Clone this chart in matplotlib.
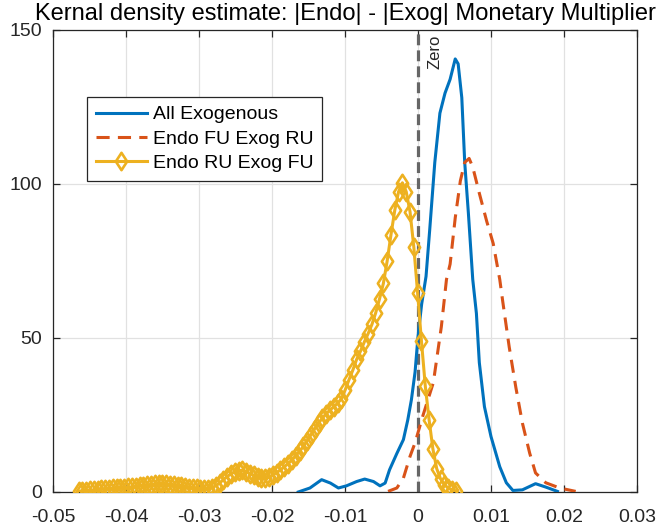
import numpy as np
import matplotlib
matplotlib.use("Agg")
import matplotlib.pyplot as plt
from matplotlib.path import Path

plt.rcParams['font.family'] = ['Liberation Sans', 'DejaVu Sans']
plt.rcParams['axes.unicode_minus'] = False

# ---------------- data ----------------
title = "Kernal density estimate: |Endo| - |Exog| Monetary Multiplier"
labels = ["All Exogenous", "Endo FU Exog RU", "Endo RU Exog FU"]

x_all = [-0.0164, -0.0148, -0.0132, -0.0120, -0.0109, -0.0098, -0.0084, -0.0073,
         -0.0061, -0.0052, -0.0045, -0.0039, -0.0029, -0.0020, -0.0014, -0.0009,
         -0.0004, 0.0000, 0.0005, 0.0011, 0.0016, 0.0023, 0.0030, 0.0037, 0.0044,
         0.0051, 0.0055, 0.0060, 0.0064, 0.0069, 0.0075, 0.0080, 0.0084, 0.0091,
         0.0100, 0.0112, 0.0121, 0.0130, 0.0143, 0.0161, 0.0175, 0.0191]
y_all = [0.0, 1.3, 4.0, 2.9, 1.3, 2.0, 3.4, 4.2,
         3.4, 2.0, 2.9, 7.2, 12.5, 17.0, 23.4, 30.0,
         39.0, 50.5, 61.0, 70.0, 85.0, 107.0, 123.0, 129.5, 134.0,
         140.6, 139.0, 128.0, 107.0, 90.6, 69.0, 58.0, 42.0, 27.7,
         18.0, 8.2, 3.0, 0.5, 0.7, 2.7, 1.6, 0.2]

x_fu = [-0.0041, -0.0029, -0.0020, -0.0011, -0.0004, 0.0007, 0.0021, 0.0032,
        0.0039, 0.0044, 0.0051, 0.0058, 0.0064, 0.0070, 0.0075, 0.0084, 0.0094,
        0.0103, 0.0112, 0.0116, 0.0125, 0.0134, 0.0143, 0.0153, 0.0161, 0.0175,
        0.0194, 0.0216]
y_fu = [0.2, 1.3, 4.5, 11.5, 16.0, 25.0, 35.5, 53.7,
        69.0, 74.0, 89.0, 101.0, 107.0, 108.3, 105.5, 97.0, 88.0,
        80.7, 69.0, 62.0, 47.0, 34.0, 22.4, 12.6, 6.2, 3.0,
        1.3, 0.2]

x_ru = np.linspace(-0.0465, 0.00517, 100)
y_ru = [0.2, 0.3, 0.4, 0.5, 0.6, 0.7, 0.85, 0.95, 1.05, 1.15,
        1.25, 1.3, 1.4, 1.5, 1.6, 1.75, 1.85, 2.0, 2.15, 2.3,
        2.5, 2.6, 2.65, 2.6, 2.4, 2.2, 2.0, 1.8, 1.6, 1.45,
        1.3, 1.15, 1.05, 1.0, 1.1, 1.4, 2.0, 2.9, 4.0, 5.0,
        5.9, 6.5, 6.9, 7.0, 6.6, 6.0, 5.4, 4.8, 4.5, 4.4,
        4.8, 5.6, 6.3, 7.2, 8.2, 9.2, 10.4, 11.8, 13.2, 14.8,
        16.7, 18.6, 20.6, 22.4, 24.0, 25.4, 26.6, 27.7, 28.8, 30.3,
        33.2, 36.5, 39.6, 43.1, 45.7, 48.7, 51.4, 54.4, 58.2, 62.7,
        67.7, 75.0, 83.5, 91.5, 97.5, 100.4, 97.5, 91.0, 79.5, 64.5,
        49.0, 34.5, 23.5, 14.0, 7.6, 4.3, 2.4, 1.3, 0.7, 0.4]

xticks = [-0.05, -0.04, -0.03, -0.02, -0.01, 0, 0.01, 0.02, 0.03]
xticklabels = ["-0.05", "-0.04", "-0.03", "-0.02", "-0.01", "0", "0.01", "0.02", "0.03"]
yticks = [0, 50, 100, 150]
yticklabels = ["0", "50", "100", "150"]
zero_x = 0.0

# ---------------- style ----------------
c_blue = "#0072BD"
c_red = "#D95319"
c_yel = "#EDB120"
dark = "#262626"
fs = 14

fig = plt.figure(figsize=(6.58, 5.31), dpi=100)
ax = fig.add_axes([53/658, 39/531, 584/658, 462/531])

ax.plot(x_all, y_all, color=c_blue, lw=2.2, label=labels[0], zorder=3)
ax.plot(x_fu, y_fu, color=c_red, lw=2.2, ls=(0, (4.3, 2.7)), label=labels[1], zorder=3)
diamond = Path([(0, 1), (0.65, 0), (0, -1), (-0.65, 0), (0, 1)],
               [Path.MOVETO, Path.LINETO, Path.LINETO, Path.LINETO, Path.CLOSEPOLY])
ax.plot(x_ru, y_ru, color=c_yel, lw=2.2, marker=diamond, ms=12.5, mfc='none',
        mec=c_yel, mew=1.9, label=labels[2], zorder=4)

ax.axvline(zero_x, color="#666666", lw=2.3, ls=(0, (3.4, 1.6)), zorder=2)
ax.text(zero_x + 0.0013, 148.5, "Zero", rotation=90, ha='left', va='top',
        fontsize=12, color=dark)

ax.set_xlim(-0.05, 0.03)
ax.set_ylim(0, 150)
ax.set_xticks(xticks)
ax.set_xticklabels(xticklabels)
ax.set_yticks(yticks)
ax.set_yticklabels(yticklabels)
ax.grid(True, color="#e1e1e1", lw=0.9, zorder=0)
ax.set_axisbelow(True)
ax.tick_params(direction='in', length=5, width=0.9, color=dark, labelcolor=dark,
               labelsize=fs, top=True, right=True)
ax.tick_params(axis='x', pad=12)
ax.tick_params(axis='y', pad=8)
for s in ax.spines.values():
    s.set_color(dark)
    s.set_linewidth(0.9)

ax.set_title(title, fontsize=17, color='black', pad=7)

leg = ax.legend(loc='upper left', bbox_to_anchor=(0.058, 0.855), borderaxespad=0,
                fontsize=fs, frameon=True, fancybox=False, edgecolor=dark,
                framealpha=1, handlelength=2.65, handletextpad=0.3,
                labelspacing=0.35, borderpad=0.45)
leg.get_frame().set_linewidth(0.9)

fig.savefig("out.png", dpi=100)
